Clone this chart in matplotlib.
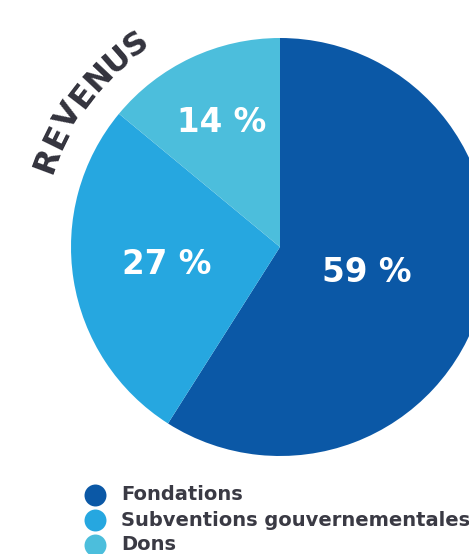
import matplotlib
matplotlib.use("Agg")
import matplotlib.pyplot as plt
import numpy as np

categories = ["Fondations", "Subventions gouvernementales", "Dons"]
values = [59, 27, 14]
pct_labels = ["59 %", "27 %", "14 %"]
colors = ["#0b58a6", "#26a7e0", "#4cbedc"]
title = "REVENUS"

W, H = 469, 554
fig = plt.figure(figsize=(W / 100, H / 100), dpi=100)
ax = fig.add_axes([0, 0, 1, 1])

cx, cy, R = 280, H - 247, 209
wedges, _ = ax.pie(values, colors=colors, startangle=90, counterclock=False,
                   center=(cx, cy), radius=R, wedgeprops=dict(linewidth=0))
ax.set_aspect("auto")
ax.set_xlim(0, W)
ax.set_ylim(0, H)
ax.axis("off")

# percentage labels inside each wedge
label_r = [0.43, 0.55, 0.66]
for w, lab, fr in zip(wedges, pct_labels, label_r):
    mid = np.deg2rad((w.theta1 + w.theta2) / 2)
    ax.text(cx + fr * R * np.cos(mid), cy + fr * R * np.sin(mid), lab,
            color="white", fontsize=23.5, fontweight="bold",
            ha="center", va="center", family="DejaVu Sans")

# curved title along the arc
arc_r = 248
angles = np.linspace(159.5, 125.4, len(title))
for ch, a in zip(title, angles):
    t = np.deg2rad(a)
    ax.text(cx + arc_r * np.cos(t), cy + arc_r * np.sin(t), ch,
            rotation=a - 90, rotation_mode="anchor", ha="center", va="center",
            fontsize=23, fontweight="heavy", color="#33333d", family="DejaVu Sans")

# legend
leg_y = [495, 520, 545]
for name, col, y in zip(categories, colors, leg_y):
    ax.scatter([95], [H - y], s=250, color=col, linewidths=0)
    ax.text(121, H - y, name, ha="left", va="center", fontsize=14,
            fontweight="bold", color="#3a3a44", family="DejaVu Sans")

fig.savefig("out.png", dpi=100)
